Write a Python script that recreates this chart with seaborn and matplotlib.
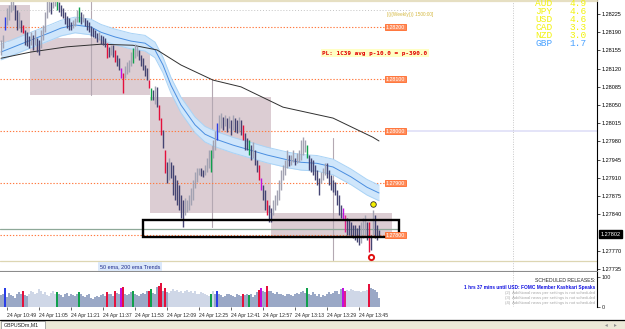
import numpy as np
import pandas as pd
import matplotlib
matplotlib.use("Agg")
import matplotlib.pyplot as plt
from matplotlib.patches import Rectangle
from matplotlib.transforms import blended_transform_factory
import seaborn as sns

sns.set_style("white")
plt.rcParams['font.family'] = ['Liberation Sans', 'DejaVu Sans']

# prices are stored as points above BASE (1 point = 0.00001)
BASE = 1.27700

# 1-minute candles, 24 Apr from 10:46
highs = [475, 485, 519, 537, 542, 556, 558, 542, 533, 529,
         514, 504, 494, 490, 483, 490, 485, 494, 479, 475,
         494, 504, 529, 556, 560, 548, 558, 560, 556, 548,
         542, 537, 529, 521, 517, 510, 514, 517, 533, 539,
         529, 525, 517, 514, 510, 502, 498, 494, 489, 490,
         485, 483, 479, 469, 462, 465, 465, 456, 446, 440,
         421, 412, 425, 433, 437, 452, 460, 467, 464, 456,
         446, 440, 427, 421, 398, 383, 379, 387, 385, 350,
         325, 302, 264, 240, 248, 240, 235, 215, 206, 196,
         177, 167, 171, 167, 177, 190, 206, 221, 229, 229,
         229, 225, 235, 248, 264, 264, 283, 300, 315, 331,
         335, 327, 331, 325, 329, 321, 331, 325, 321, 327,
         321, 312, 296, 287, 283, 273, 279, 264, 244, 235,
         210, 196, 187, 167, 158, 152, 167, 177, 187, 206,
         225, 235, 244, 264, 254, 254, 264, 248, 258, 264,
         283, 289, 283, 273, 254, 248, 244, 235, 225, 210,
         221, 229, 239, 239, 225, 215, 206, 202, 187, 177,
         158, 152, 139, 133, 129, 125, 119, 119, 114, 119,
         125, 133, 139, 125, 125, 100, 148, 139, 119, 110]
lows = [446, 460, 494, 504, 514, 529, 533, 514, 494, 498,
        490, 489, 465, 464, 460, 465, 456, 465, 452, 446,
        460, 475, 490, 517, 529, 525, 537, 540, 533, 529,
        521, 517, 506, 498, 494, 494, 498, 502, 510, 510,
        506, 510, 502, 494, 490, 483, 481, 479, 471, 475,
        467, 465, 462, 440, 442, 446, 442, 433, 425, 417,
        402, 373, 402, 410, 414, 425, 431, 440, 444, 437,
        425, 417, 406, 398, 383, 360, 360, 352, 346, 321,
        292, 267, 219, 200, 206, 210, 177, 167, 158, 148,
        133, 115, 139, 144, 148, 158, 167, 190, 202, 215,
        214, 212, 215, 221, 229, 221, 248, 264, 283, 298,
        306, 302, 310, 298, 306, 292, 302, 298, 296, 298,
        292, 283, 264, 264, 254, 244, 248, 235, 221, 206,
        187, 167, 148, 139, 125, 125, 139, 148, 158, 167,
        187, 206, 215, 229, 233, 235, 240, 235, 239, 240,
        244, 254, 260, 248, 225, 221, 215, 206, 196, 177,
        200, 206, 215, 210, 196, 187, 183, 177, 158, 139,
        133, 129, 106, 100, 100, 96, 94, 90, 87, 81,
        85, 94, 100, 90, 67, 71, 100, 94, 90, 98]
volumes = [40, 45, 62, 35, 48, 40, 38, 30, 42, 50,
           45, 52, 40, 38, 45, 55, 50, 42, 48, 60,
           52, 45, 50, 40, 38, 48, 55, 42, 50, 45,
           40, 35, 42, 48, 38, 45, 40, 36, 44, 50,
           42, 38, 35, 40, 45, 30, 28, 35, 38, 32,
           40, 45, 38, 50, 42, 45, 38, 55, 48, 45,
           62, 66, 45, 40, 42, 50, 55, 45, 40, 38,
           42, 48, 45, 52, 55, 60, 48, 45, 68, 70,
           80, 55, 65, 50, 48, 55, 60, 52, 58, 50,
           55, 48, 52, 58, 50, 55, 48, 52, 45, 42,
           50, 48, 45, 40, 38, 45, 55, 42, 55, 45,
           40, 35, 38, 42, 45, 40, 38, 35, 42, 40,
           38, 45, 40, 42, 40, 45, 35, 40, 50, 58,
           65, 55, 50, 70, 55, 52, 48, 45, 50, 42,
           45, 40, 38, 42, 45, 40, 38, 42, 48, 45,
           50, 55, 48, 62, 45, 40, 50, 45, 38, 42,
           35, 40, 38, 45, 50, 42, 48, 55, 52, 45,
           60, 62, 55, 58, 52, 60, 58, 55, 52, 55,
           50, 55, 52, 58, 78, 62, 60, 58, 50, 30]

# highlighted candles (indicator signals)
blue_idx = [2, 108]
red_idx = [11, 53, 57, 61, 74, 79, 80, 82, 121, 129, 133, 184]
green_idx = [28, 39, 66, 75, 105, 124, 153]
purple_idx = [60, 130, 171]
magenta_idx = [172]
light_vol_ranges = [(14, 27), (84, 106), (173, 183)]

# moving averages read at some candles
ema50_idx = [0, 15, 25, 30, 37, 45, 50, 57, 65, 72, 77, 81, 85, 90, 97, 102,
             107, 116, 125, 133, 144, 150, 158, 166, 175, 183, 189]
ema50_pts = [452, 475, 490, 498, 504, 500, 490, 481, 473, 469, 456, 427, 388,
             350, 312, 294, 285, 273, 263, 254, 244, 240, 238, 231, 212, 192, 181]
ema200_idx = [0, 15, 33, 50, 66, 78, 90, 106, 120, 141, 166, 186, 189]
ema200_pts = [440, 452, 462, 467, 465, 456, 427, 398, 385, 346, 325, 288, 281]
band_pts = 15

# zones
zone_start = [-0.5, 14.5, 74.5, 135]
zone_end = [14.5, 74.5, 135, 195.5]
zone_top = [542, 479, 365, 142]
zone_bottom = [471, 369, 142, 96]
sess_idx = [45, 105.5, 166]
sess_top = [552, 398, 287]
sess_bottom = [369, 115, 52]

levels = [500, 400, 300, 200, 100]
level_labels = ['1.28200', '1.28100', '1.28000', '1.27900', '1.27800']

signal_idx = [186, 185]
signal_pts = [160, 58]
last_price = 102

price_ticks = [1.28225, 1.28190, 1.28155, 1.28120, 1.28085, 1.28050, 1.28015,
               1.27980, 1.27945, 1.27910, 1.27875, 1.27840, 1.27770, 1.27735]
time_idx = [3, 19, 35, 51, 67, 83, 99, 115, 131, 147, 163, 179]
time_labels = ['24 Apr 10:49', '24 Apr 11:05', '24 Apr 11:21', '24 Apr 11:37',
               '24 Apr 11:53', '24 Apr 12:09', '24 Apr 12:25', '24 Apr 12:41',
               '24 Apr 12:57', '24 Apr 13:13', '24 Apr 13:29', '24 Apr 13:45']

currencies = ['AUD', 'JPY', 'USD', 'CAD', 'NZD', 'GBP']
strength = [4.9, 4.6, 4.6, 3.3, 3.0, 1.7]


def px(p):
    return BASE + np.asarray(p, dtype=float) / 1e5


W, H = 625, 329
fig = plt.figure(figsize=(6.25, 3.29), dpi=100)


def box(l, t, r, b):
    return [l / W, 1 - b / H, (r - l) / W, (b - t) / H]


ax = fig.add_axes(box(0, 0, 597, 271))
axv = fig.add_axes(box(0, 272, 597, 307), sharex=ax)
ov = fig.add_axes([0, 0, 1, 1], zorder=10)
ov.set_xlim(0, W)
ov.set_ylim(H, 0)
ov.axis('off')
ov.patch.set_visible(False)

col_up, col_dn = '#a2a2b2', '#444472'
kind_col = {}
for i in blue_idx:
    kind_col[i] = '#2a3ee6'
for i in red_idx:
    kind_col[i] = '#e4103c'
for i in green_idx:
    kind_col[i] = '#10a04c'
for i in purple_idx:
    kind_col[i] = '#c010e0'
for i in magenta_idx:
    kind_col[i] = '#e0208a'

n = len(highs)
idx = np.arange(n)
hi = np.array(highs)
lo = np.array(lows)
mid = (hi + lo) / 2
candle_cols = []
for i in range(n):
    if i in kind_col:
        candle_cols.append(kind_col[i])
    elif i > 0 and mid[i] < mid[i - 1]:
        candle_cols.append(col_dn)
    else:
        candle_cols.append(col_up)

# --- main window ---
ax.set_xlim(-0.5, 298)
ax.set_ylim(px(31), px(552))

for s, e, t, b in zip(zone_start, zone_end, zone_top, zone_bottom):
    ax.add_patch(Rectangle((s, px(b)), e - s, px(t) - px(b), fc='#dccdd3', ec='none', zorder=1))
for i, t, b in zip(sess_idx, sess_top, sess_bottom):
    ax.plot([i, i], [px(b), px(t)], color='#b4a8b2', lw=0.8, zorder=1.5)

for lv, lab in zip(levels, level_labels):
    ax.plot([-0.5, 192], [px(lv), px(lv)], color='#ff7a40', lw=0.8, ls=(0, (1.2, 1.6)), zorder=2)
    ax.text(192.5, px(lv), lab, fontsize=3.8, color='white', va='center', ha='left', zorder=6,
            bbox=dict(boxstyle='square,pad=0.15', fc='#ff8c5a', ec='#ff6a2a', lw=0.6))

ax.plot([-0.5, 205], [px(533), px(533)], color='#c4c4c4', lw=0.7, ls=(0, (1, 2)), zorder=2)
ax.plot([199.5, 298], [px(300), px(300)], color='#e2e2f8', lw=1.3, zorder=2)
ax.axhline(px(50), color='#ddd6b2', lw=0.9, zorder=2)
ax.plot([-0.5, 199], [px(112), px(112)], color='#8ea898', lw=0.9, zorder=2)
ax.axvline(256, color='#c8c8c8', lw=0.7, ls=(0, (1, 1.5)), zorder=2)

e50 = px(ema50_pts)
ax.fill_between(ema50_idx, e50 - band_pts / 1e5, e50 + band_pts / 1e5, color='#cfe6fb', lw=0, zorder=3)
ax.plot(ema50_idx, e50 - band_pts / 1e5, color='#a9d3f6', lw=0.7, zorder=3)
ax.plot(ema50_idx, e50 + band_pts / 1e5, color='#a9d3f6', lw=0.7, zorder=3)
df50 = pd.DataFrame({'i': ema50_idx, 'p': e50})
df200 = pd.DataFrame({'i': ema200_idx, 'p': px(ema200_pts)})
sns.lineplot(data=df50, x='i', y='p', ax=ax, color='#4a8ee0', lw=0.7, legend=False, zorder=3.5)
sns.lineplot(data=df200, x='i', y='p', ax=ax, color='#303030', lw=0.7, legend=False, zorder=3.5)

ax.vlines(idx, px(lo), px(hi), colors=candle_cols, lw=1.0, zorder=4)

ax.add_patch(Rectangle((71, px(96)), 128, px(129) - px(96), fill=False, ec='black', lw=1.7, zorder=5))

ax.scatter([signal_idx[0]], [px(signal_pts[0])], s=16, c='#f4f000', edgecolors='#303030', linewidths=0.6, zorder=6)
ax.scatter([signal_idx[1]], [px(signal_pts[1])], s=14, c='white', edgecolors='#e01010', linewidths=1.4, zorder=6)

ax.text(160.5, px(450), 'PL: 1C39 avg p-10.0 = p-390.0', fontsize=4.3, color='#e00000',
        family='DejaVu Sans Mono', fontweight='bold', va='center', ha='left', zorder=6,
        bbox=dict(boxstyle='square,pad=0.25', fc='#ffffc4', ec='none'))
ax.text(193, px(525), '[(((Weekly))) 1500:00]', fontsize=3.4, color='#d4b840', va='center', ha='left', zorder=6)

ax.yaxis.tick_right()
ax.set_yticks(price_ticks)
ax.set_yticklabels(['%.5f' % p for p in price_ticks])
ax.tick_params(axis='y', labelsize=4, length=2, width=0.5, pad=1.5, colors='black', direction='out')
ax.tick_params(axis='x', bottom=False, labelbottom=False)
ax.set_xlabel('')
ax.set_ylabel('')
for sp in ['left', 'top']:
    ax.spines[sp].set_visible(False)
ax.spines['right'].set_color('black')
ax.spines['right'].set_linewidth(0.8)
ax.spines['bottom'].set_color('#8c8c8c')
ax.spines['bottom'].set_linewidth(0.8)

tr = blended_transform_factory(ax.transAxes, ax.transData)
ax.text(1.006, px(last_price), '%.5f' % px(last_price), transform=tr, fontsize=4, color='white',
        va='center', ha='left', zorder=7, clip_on=False,
        bbox=dict(boxstyle='square,pad=0.2', fc='black', ec='black'))

# --- volume window ---
vcols = []
for i in range(n):
    if i in kind_col:
        vcols.append(kind_col[i])
    elif any(a <= i <= b for a, b in light_vol_ranges):
        vcols.append('#cfd7e7')
    else:
        vcols.append('#9aa8c6')
axv.bar(idx, volumes, width=0.55, color=vcols, lw=0, zorder=3)
axv.set_ylim(0, 117)
axv.axvline(256, color='#c8c8c8', lw=0.7, ls=(0, (1, 1.5)), zorder=2)
axv.yaxis.tick_right()
axv.set_yticks([0, 100])
axv.set_yticklabels(['0', '100'])
axv.tick_params(axis='y', labelsize=4, length=2, width=0.5, pad=1.5)
axv.set_xticks(time_idx)
axv.set_xticklabels(time_labels, ha='left')
axv.tick_params(axis='x', labelsize=3.7, length=2, width=0.5, pad=2.5, bottom=True)
for sp in ['left', 'top', 'bottom']:
    axv.spines[sp].set_visible(False)
axv.spines['right'].set_color('black')
axv.spines['right'].set_linewidth(0.8)

# --- window decorations and indicator texts ---
ov.plot([0, 597], [0.8, 0.8], color='#e6dfc2', lw=1.6)
ov.text(130, 266.5, '50 ema, 200 ema Trends', fontsize=3.9, color='#1c2a8c', ha='center', va='center',
        bbox=dict(boxstyle='square,pad=0.35', fc='#dbe8fa', ec='none'))
for k, (cur, val) in enumerate(zip(currencies, strength)):
    c = '#4aa2ff' if cur == 'GBP' else '#f2f20c'
    y = 4.0 + 7.9 * k
    ov.text(535, y, cur, fontsize=6.8, color=c, family='Liberation Mono', ha='left', va='center')
    ov.text(587, y, '%.1f' % val, fontsize=6.8, color=c, family='Liberation Mono', ha='right', va='center')

ov.text(595, 280, 'SCHEDULED RELEASES:', fontsize=3.7, color='#303030', ha='right', va='center')
ov.text(595, 287, '1 hrs 37 mins until USD: FOMC Member Kashkari Speaks', fontsize=3.4,
        color='#1010e0', fontweight='bold', ha='right', va='center')
for k in range(3):
    ov.text(595, 293 + 5.2 * k, '(%d)  Additional news per settings is not scheduled' % (k + 2),
            fontsize=3.1, color='#a8a8a8', ha='right', va='center')

ov.plot([0, W], [320.3, 320.3], color='black', lw=0.9)
ov.add_patch(Rectangle((0, 321), W, 8, fc='#ece9d8', ec='none'))
ov.add_patch(Rectangle((1, 320.5), 44, 8, fc='white', ec='#9c9c9c', lw=0.6))
ov.text(4, 324.8, 'GBPUSDm,M1', fontsize=3.8, color='#202020', ha='left', va='center')
ov.text(606, 325, '\u25c2', fontsize=4, color='#909090', ha='center', va='center')
ov.text(615, 325, '\u25b8', fontsize=4, color='#909090', ha='center', va='center')

fig.savefig('out.png', dpi=100, facecolor='white')
